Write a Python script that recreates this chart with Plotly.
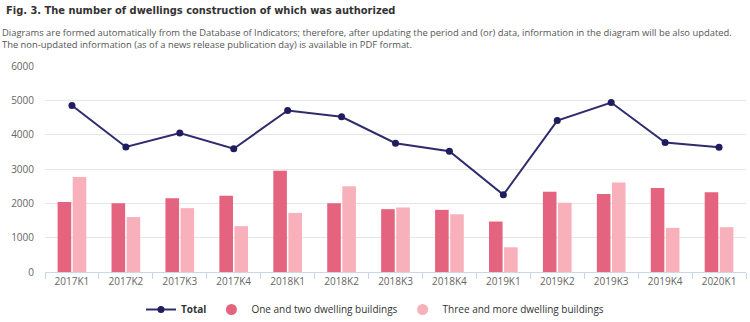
import plotly.graph_objects as go

categories = ["2017K1", "2017K2", "2017K3", "2017K4", "2018K1", "2018K2", "2018K3",
              "2018K4", "2019K1", "2019K2", "2019K3", "2019K4", "2020K1"]
total = [4850, 3640, 4045, 3590, 4705, 4520, 3750, 3515, 2250, 4410, 4935, 3770, 3635]
one_two = [2040, 2000, 2150, 2220, 2950, 2000, 1830, 1810, 1470, 2340, 2270, 2445, 2320]
three_more = [2770, 1600, 1860, 1335, 1720, 2495, 1880, 1680, 720, 2020, 2610, 1285, 1305]

C_ONE = "#e4637f"
C_THREE = "#f8b0ba"
C_TOTAL = "#2e2c6c"
FONT = "Open Sans, Noto Sans, sans-serif"

fig = go.Figure()
fig.add_trace(go.Bar(x=categories, y=one_two, name="One and two dwelling buildings",
                     marker=dict(color=C_ONE, line=dict(width=0)), showlegend=False))
fig.add_trace(go.Bar(x=categories, y=three_more, name="Three and more dwelling buildings",
                     marker=dict(color=C_THREE, line=dict(width=0)), showlegend=False))
fig.add_trace(go.Scatter(x=categories, y=total, name="<b>Total</b>", mode="lines+markers",
                         line=dict(color=C_TOTAL, width=2),
                         marker=dict(color="#1f1d5e", size=7), legendrank=1))
# legend entries with circle symbols
fig.add_trace(go.Scatter(x=[None], y=[None], mode="markers", name="One and two dwelling buildings",
                         marker=dict(color=C_ONE, size=11), legendrank=2))
fig.add_trace(go.Scatter(x=[None], y=[None], mode="markers", name="Three and more dwelling buildings",
                         marker=dict(color=C_THREE, size=11), legendrank=3))

fig.update_layout(
    width=750, height=322,
    margin=dict(l=45, r=4, t=66, b=50, autoexpand=False),
    paper_bgcolor="white", plot_bgcolor="white",
    font=dict(family=FONT, size=10, color="#666666"),
    barmode="group", bargap=0.44, bargroupgap=0.1,
    showlegend=True,
    legend=dict(orientation="h", x=0.5, xanchor="center", xref="container",
                y=1 - 295 / 322, yanchor="top", yref="container",
                font=dict(size=10, color="#333333"), itemwidth=30, tracegroupgap=0,
                bgcolor="rgba(0,0,0,0)"),
    annotations=[
        dict(text="<b>Fig. 3. The number of dwellings construction of which was authorized</b>",
             xref="paper", yref="paper", x=-41/701, y=1 + 56/206, xanchor="left", yanchor="middle",
             showarrow=False,
             font=dict(family="DejaVu Sans Condensed, Roboto Condensed, Liberation Sans Narrow, Roboto, sans-serif",
                       size=11, color="#333333")),
        dict(text="Diagrams are formed automatically from the Database of Indicators; therefore, after updating the period and (or) data, information in the diagram will be also updated.<br>The non-updated information (as of a news release publication day) is available in PDF format.",
             xref="paper", yref="paper", x=-45/701, y=1 + 28/206, xanchor="left", yanchor="middle",
             showarrow=False, align="left",
             font=dict(family=FONT, size=9.4, color="#555555")),
    ],
)
fig.update_xaxes(type="category", range=[-0.5, len(categories) - 0.5],
                 showgrid=False, showline=True, linecolor="#ccd6eb", linewidth=1,
                 ticks="outside", tickson="boundaries", ticklen=6, tickcolor="#ccd6eb",
                 tickfont=dict(size=10, color="#666666"), automargin=False)
fig.update_yaxes(range=[0, 6000], tickvals=[0, 1000, 2000, 3000, 4000, 5000, 6000],
                 showgrid=True, gridcolor="#e6e6e6", gridwidth=1, zeroline=False,
                 showline=False, ticks="", ticklabelstandoff=10,
                 tickfont=dict(size=10, color="#666666"), automargin=False)

fig.write_html("out.html")
